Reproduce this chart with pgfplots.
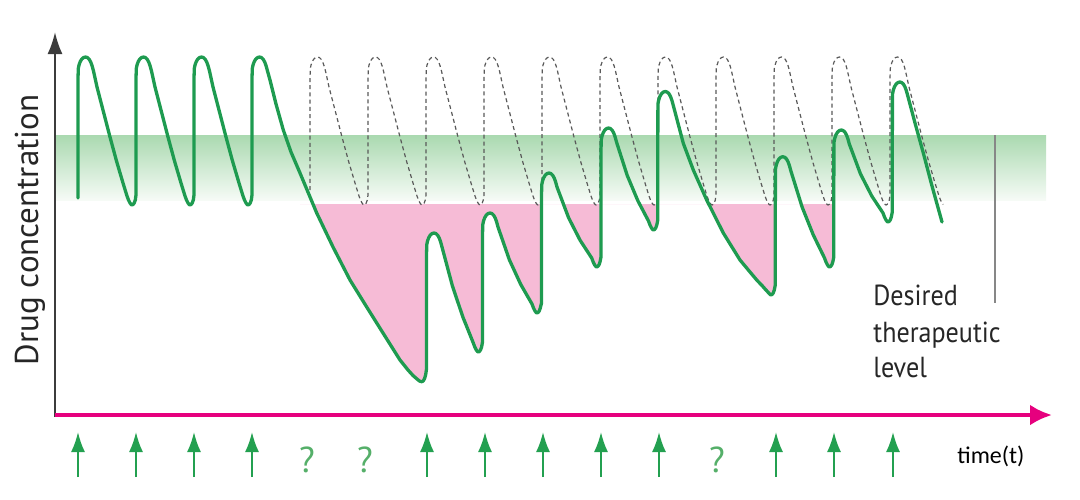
\documentclass[border=0pt]{standalone}
\usepackage{fontspec}
\setmainfont{PT Sans}
\newfontfamily\condfont{PT Sans}[FakeStretch=0.9]
\newfontfamily\timefont{Carlito}
\usepackage{pgfplots}
\pgfplotsset{compat=1.18}
\usepackage{pgfplotstable}
\usepgfplotslibrary{fillbetween}
\usetikzlibrary{arrows.meta}
\definecolor{curvegreen}{RGB}{30,155,80}
\definecolor{arrowgreen}{RGB}{35,160,80}
\definecolor{qgreen}{RGB}{85,175,105}
\definecolor{pinkc}{RGB}{246,187,214}
\definecolor{bandtop}{RGB}{170,217,176}
\definecolor{bandbot}{RGB}{246,251,246}
\definecolor{magentaaxis}{RGB}{230,0,126}
\definecolor{axisgray}{RGB}{60,60,60}
\definecolor{levelgray}{RGB}{135,135,135}
\definecolor{dashgray}{RGB}{90,90,90}

\pgfplotstableread{
x y
78 217
78.05 338
78.3 346.5
79 349.9
80.2 353.3
81.75 355.9
83.55 357.45
85.5 358
87.45 357.4
89.2 355.7
90.8 352.8
92.2 348.8
93.5 344
97 328
103.5 303
110 278
116.5 254
123 232
127 219
128.5 215
130 212
131.2 210.5
132 210
133 210.5
134.2 212
135.3 215
136 220
136.05 338
136.3 346.5
137 349.9
138.2 353.3
139.75 355.9
141.55 357.45
143.5 358
145.45 357.4
147.2 355.7
148.8 352.8
150.2 348.8
151.5 344
155 328
161.5 303
168 278
174.5 254
181 232
185 219
186.5 215
188 212
189.2 210.5
190 210
191 210.5
192.2 212
193.3 215
194 220
194.05 338
194.3 346.5
195 349.9
196.2 353.3
197.75 355.9
199.55 357.45
201.5 358
203.45 357.4
205.2 355.7
206.8 352.8
208.2 348.8
209.5 344
213 328
219.5 303
226 278
232.5 254
239 232
243 219
244.5 215
246 212
247.2 210.5
248 210
249 210.5
250.2 212
251.3 215
252 220
252.05 338
252.3 346.5
253 349.9
254.2 353.3
255.75 355.9
257.55 357.45
259.5 358
261.45 357.4
263.2 355.7
264.8 352.8
266.2 348.8
267.5 344
270 335
276 311
283.3 285
291 263
300 242
316.7 202
333 168
350 135
366.7 108
383 82
400 55
408 45
413 39.5
417 36
419.5 34
421.7 33.3
423.2 34
424.6 36.5
425.7 40.5
426.5 46
426.55 162
426.8 170.5
427.5 173.9
428.7 177.3
430.25 179.9
432.05 181.45
434 182
435.95 181.4
437.7 179.7
439.3 176.8
440.7 172.8
442 168
452.43 129
462.87 98
473.3 72
474.8 68
476.3 65
477.5 63.5
478.3 63
479.3 63.5
480.5 65
481.6 68
482.5 73
482.55 182
482.8 190.5
483.5 193.9
484.7 197.3
486.25 199.9
488.05 201.45
490 202
491.95 201.4
493.7 199.7
495.3 196.8
496.7 192.8
498 188
509.33 155.3
520.67 130.7
532 111
533.5 107
535 104
536.2 102.5
537 102
538 102.5
539.2 104
540.3 107
541.5 112
541.55 222
541.8 230.5
542.5 233.9
543.7 237.3
545.25 239.9
547.05 241.45
549 242
550.95 241.4
552.7 239.7
554.3 236.8
555.7 232.8
557 228
568.57 197.3
580.13 174.7
591.7 157
593.2 153
594.7 150
595.9 148.5
596.7 148
597.7 148.5
598.9 150
600 153
601 158
601.05 267
601.3 275.5
602 278.9
603.2 282.3
604.75 284.9
606.55 286.45
608.5 287
610.45 286.4
612.2 284.7
613.8 281.8
615.2 277.8
616.5 273
627.17 239.7
637.83 214.3
648.5 194
650 190
651.5 187
652.7 185.5
653.5 185
654.5 185.5
655.7 187
656.8 190
657.8 195
657.85 303.5
658.1 312
658.8 315.4
660 318.8
661.55 321.4
663.35 322.95
665.3 323.5
667.25 322.9
669 321.2
670.6 318.3
672 314.3
673.3 309.5
683.3 271.7
693.3 245
706.7 215
723.3 182
740 155
756.7 135
762 129.5
765.5 125.5
768.5 122.3
770 120.6
771 120
772 120.5
773.2 122
774.3 125
775.3 130
775.35 238.3
775.6 246.8
776.3 250.2
777.5 253.6
779.05 256.2
780.85 257.75
782.8 258.3
784.75 257.7
786.5 256
788.1 253.1
789.5 249.1
790.8 244.3
802.03 208.2
813.27 180.1
824.5 157
826 153
827.5 150
828.7 148.5
829.5 148
830.5 148.5
831.7 150
832.8 153
833.8 158
833.85 265
834.1 273.5
834.8 276.9
836 280.3
837.55 282.9
839.35 284.45
841.3 285
843.25 284.4
845 282.7
846.6 279.8
848 275.8
849.3 271
860.53 241
871.77 219
883 202
884.5 198
886 195
887.2 193.5
888 193
889 193.5
890.2 195
891.3 198
892.3 203
892.35 313
892.6 321.5
893.3 324.9
894.5 328.3
896.05 330.9
897.85 332.45
899.8 333
901.75 332.4
903.5 330.7
905.1 327.8
906.5 323.8
907.8 319
915 292
923.3 262
932 229
942 193
}\solid

\pgfplotstableread{
x y
310 225
310.05 338
310.3 346.5
311 349.9
312.2 353.3
313.75 355.9
315.55 357.45
317.5 358
319.45 357.4
321.2 355.7
322.8 352.8
324.2 348.8
325.5 344
329 328
335.5 303
342 278
348.5 254
355 232
359 219
360.5 215
362 212
363.2 210.5
364 210
365 210.5
366.2 212
367.3 215
368 220
368.05 338
368.3 346.5
369 349.9
370.2 353.3
371.75 355.9
373.55 357.45
375.5 358
377.45 357.4
379.2 355.7
380.8 352.8
382.2 348.8
383.5 344
387 328
393.5 303
400 278
406.5 254
413 232
417 219
418.5 215
420 212
421.2 210.5
422 210
423 210.5
424.2 212
425.3 215
426 220
426.05 338
426.3 346.5
427 349.9
428.2 353.3
429.75 355.9
431.55 357.45
433.5 358
435.45 357.4
437.2 355.7
438.8 352.8
440.2 348.8
441.5 344
445 328
451.5 303
458 278
464.5 254
471 232
475 219
476.5 215
478 212
479.2 210.5
480 210
481 210.5
482.2 212
483.3 215
484 220
484.05 338
484.3 346.5
485 349.9
486.2 353.3
487.75 355.9
489.55 357.45
491.5 358
493.45 357.4
495.2 355.7
496.8 352.8
498.2 348.8
499.5 344
503 328
509.5 303
516 278
522.5 254
529 232
533 219
534.5 215
536 212
537.2 210.5
538 210
539 210.5
540.2 212
541.3 215
542 220
542.05 338
542.3 346.5
543 349.9
544.2 353.3
545.75 355.9
547.55 357.45
549.5 358
551.45 357.4
553.2 355.7
554.8 352.8
556.2 348.8
557.5 344
561 328
567.5 303
574 278
580.5 254
587 232
591 219
592.5 215
594 212
595.2 210.5
596 210
597 210.5
598.2 212
599.3 215
600 220
600.05 338
600.3 346.5
601 349.9
602.2 353.3
603.75 355.9
605.55 357.45
607.5 358
609.45 357.4
611.2 355.7
612.8 352.8
614.2 348.8
615.5 344
619 328
625.5 303
632 278
638.5 254
645 232
649 219
650.5 215
652 212
653.2 210.5
654 210
655 210.5
656.2 212
657.3 215
658 220
658.05 338
658.3 346.5
659 349.9
660.2 353.3
661.75 355.9
663.55 357.45
665.5 358
667.45 357.4
669.2 355.7
670.8 352.8
672.2 348.8
673.5 344
677 328
683.5 303
690 278
696.5 254
703 232
707 219
708.5 215
710 212
711.2 210.5
712 210
713 210.5
714.2 212
715.3 215
716 220
716.05 338
716.3 346.5
717 349.9
718.2 353.3
719.75 355.9
721.55 357.45
723.5 358
725.45 357.4
727.2 355.7
728.8 352.8
730.2 348.8
731.5 344
735 328
741.5 303
748 278
754.5 254
761 232
765 219
766.5 215
768 212
769.2 210.5
770 210
771 210.5
772.2 212
773.3 215
774 220
774.05 338
774.3 346.5
775 349.9
776.2 353.3
777.75 355.9
779.55 357.45
781.5 358
783.45 357.4
785.2 355.7
786.8 352.8
788.2 348.8
789.5 344
793 328
799.5 303
806 278
812.5 254
819 232
823 219
824.5 215
826 212
827.2 210.5
828 210
829 210.5
830.2 212
831.3 215
832 220
832.05 338
832.3 346.5
833 349.9
834.2 353.3
835.75 355.9
837.55 357.45
839.5 358
841.45 357.4
843.2 355.7
844.8 352.8
846.2 348.8
847.5 344
851 328
857.5 303
864 278
870.5 254
877 232
881 219
882.5 215
884 212
885.2 210.5
886 210
887 210.5
888.2 212
889.3 215
890 220
890.05 338
890.3 346.5
891 349.9
892.2 353.3
893.75 355.9
895.55 357.45
897.5 358
899.45 357.4
901.2 355.7
902.8 352.8
904.2 348.8
905.5 344
909 328
915.5 303
922 278
928.5 254
935 232
939 219
940.5 215
942 212
943.2 210.5
}\dashed

\pgfplotstableread{
x y
78 -62
136 -62
194 -62
252 -62
427 -62
485 -62
543 -62
601 -62
659 -62
776 -62
834 -62
893 -62
}\doses

\begin{document}
\begin{tikzpicture}
\begin{axis}[
  scale only axis, width=540pt, height=249.5pt,
  xmin=0, xmax=1080, ymin=-84, ymax=415,
  axis lines=none, clip=false]
\addplot[draw=none] coordinates {(0,-84) (1080,415)};
\addplot[draw=none, name path=solid] table {\solid};
\addplot[draw=none, name path=ref] coordinates {(290,211) (850,211)};
\addplot[fill=pinkc, draw=none] fill between[of=solid and ref, soft clip={domain=300:834}];
\fill[white] (axis cs:295,211) rectangle (axis cs:840,400);
\shade[top color=bandtop, bottom color=bandbot] (axis cs:55,215) rectangle (axis cs:1046,280);
\addplot[levelgray, line width=1.2pt] coordinates {(995,280) (995,112)};
\addplot[dashgray, line width=0.6pt, dash pattern=on 2pt off 1.6pt] table {\dashed};
\addplot[curvegreen, line width=1.65pt, line join=round, line cap=round] table {\solid};
\addplot[axisgray, line width=1.1pt, -{Latex[length=11pt,width=7.5pt]}] coordinates {(55,-2) (55,383)};
\addplot[magentaaxis, line width=2pt, -{Latex[length=11pt,width=10.5pt]}] coordinates {(55,0) (1052,0)};
\addplot[arrowgreen, line width=1pt, quiver={u=0,v=45}, -{Latex[length=10pt,width=7pt]}] table {\doses};
\node[rotate=90, font=\fontsize{16.5}{19}\selectfont, text=black!85] at (axis cs:30,185) {Drug concentration};
\node[anchor=base west, font=\condfont\fontsize{14.5}{18}\selectfont, text=black!85, inner sep=0pt] at (axis cs:873,110) {Desired};
\node[anchor=base west, font=\condfont\fontsize{14.5}{18}\selectfont, text=black!85, inner sep=0pt] at (axis cs:873,73) {therapeutic};
\node[anchor=base west, font=\condfont\fontsize{14.5}{18}\selectfont, text=black!85, inner sep=0pt] at (axis cs:873,38) {level};
\node[anchor=base west, font=\timefont\fontsize{12}{14}\selectfont, inner sep=0pt] at (axis cs:957,-48) {time(t)};
\node[anchor=base, font=\fontsize{18}{20}\selectfont, text=qgreen, inner sep=0pt] at (axis cs:307,-57) {?};
\node[anchor=base, font=\fontsize{18}{20}\selectfont, text=qgreen, inner sep=0pt] at (axis cs:365,-57) {?};
\node[anchor=base, font=\fontsize{18}{20}\selectfont, text=qgreen, inner sep=0pt] at (axis cs:717,-57) {?};
\end{axis}
\end{tikzpicture}
\end{document}
